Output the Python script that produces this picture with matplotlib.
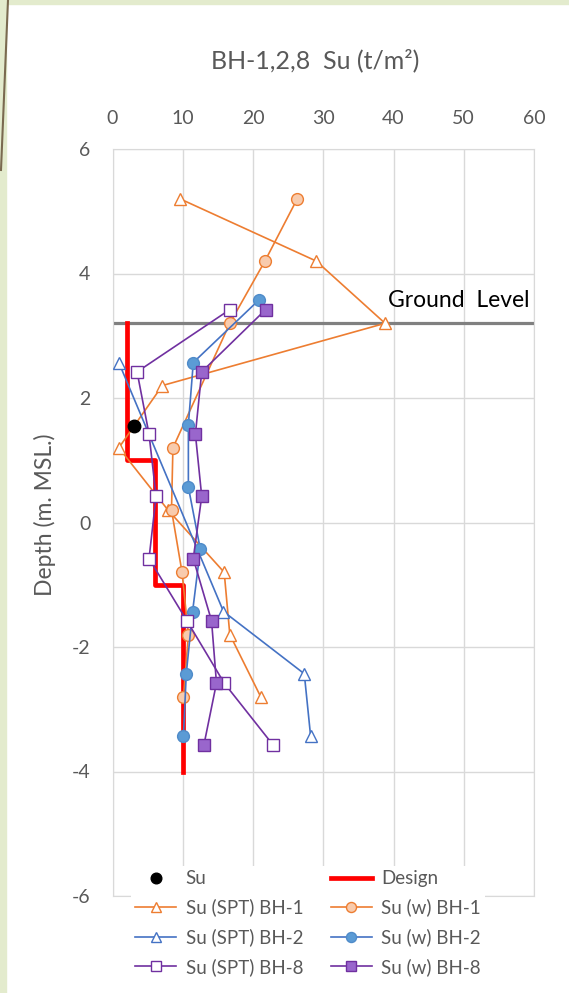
import matplotlib
matplotlib.use("Agg")
import matplotlib.pyplot as plt
from matplotlib.lines import Line2D
from matplotlib.patches import Rectangle

plt.rcParams['font.family'] = ['Lato', 'DejaVu Sans']
plt.rcParams['axes.unicode_minus'] = False

# depths (m. MSL) and Su values (t/m2)
depth_bh1 = [5.2, 4.2, 3.2, 2.2, 1.2, 0.2, -0.8, -1.8, -2.8]
su_spt_bh1 = [9.6, 29.0, 38.8, 7.1, 0.9, 7.9, 15.9, 16.7, 21.1]
su_w_bh1 = [26.3, 21.7, 16.7, None, 8.6, 8.4, 9.9, 10.8, 10.1]

depth_spt_bh2 = [2.57, -1.43, -2.43, -3.43]
su_spt_bh2 = [0.9, 15.8, 27.3, 28.2]
depth_w_bh2 = [3.57, 2.57, 1.57, 0.57, -0.43, -1.43, -2.43, -3.43]
su_w_bh2 = [20.8, 11.5, 10.8, 10.8, 12.5, 11.4, 10.5, 10.1]

depth_bh8 = [3.42, 2.42, 1.42, 0.42, -0.58, -1.58, -2.58, -3.58]
su_spt_bh8 = [16.7, 3.5, 5.2, 6.2, 5.2, 10.6, 15.9, 22.9]
su_w_bh8 = [21.8, 12.7, 11.8, 12.7, 11.5, 14.1, 14.8, 13.0]

su_point_x = [3.1]
su_point_y = [1.55]

design_x = [2, 2, 6, 6, 10, 10]
design_y = [3.2, 1.0, 1.0, -1.0, -1.0, -4.0]

ground_level = 3.2

x_ticks = [0, 10, 20, 30, 40, 50, 60]
y_ticks = [-6, -4, -2, 0, 2, 4, 6]

grey_txt = '#595959'
orange = '#ED7D31'
blue = '#4472C4'
purple = '#7030A0'

fig = plt.figure(figsize=(5.69, 9.93), dpi=100)
fig.patch.set_facecolor('white')

# slide background strip on the left / top
fig.patches.append(Rectangle((0, 0), 6 / 569, 1, transform=fig.transFigure,
                             color='#E3EBCD', zorder=0))
fig.patches.append(Rectangle((0, 1 - 4 / 993), 1, 4 / 993, transform=fig.transFigure,
                             color='#E3EBCD', zorder=0))
fig.lines.append(Line2D([8 / 569, 1 / 569], [1, 1 - 170 / 993], transform=fig.transFigure,
                        color='#7A6A50', lw=1.5, zorder=1))

ax = fig.add_axes([112.5 / 569, 97 / 993, 421.5 / 569, 747 / 993])

# ground level
ax.axhline(ground_level, color='#808080', lw=2.3, zorder=2)
ax.text(39.2, 3.57, 'Ground  Level', fontsize=16.5, color='black', va='center', ha='left')

# design line
ax.plot(design_x, design_y, color='#FF0000', lw=3.4, zorder=3, label='Design')

ax.plot(su_spt_bh1, depth_bh1, color=orange, lw=1.2, marker='^', ms=8,
        mfc='white', mec=orange, mew=1.0, zorder=4, label='Su (SPT) BH-1')
w1_x = [v for v in su_w_bh1 if v is not None]
w1_y = [d for v, d in zip(su_w_bh1, depth_bh1) if v is not None]
ax.plot(w1_x, w1_y, color=orange, lw=1.2, marker='o', ms=8.5,
        mfc='#F8CBAD', mec=orange, mew=1.0, zorder=4, label='Su (w) BH-1')

ax.plot(su_spt_bh2, depth_spt_bh2, color=blue, lw=1.2, marker='^', ms=8,
        mfc='white', mec=blue, mew=1.0, zorder=4, label='Su (SPT) BH-2')
ax.plot(su_w_bh2, depth_w_bh2, color=blue, lw=1.2, marker='o', ms=8.5,
        mfc='#5B9BD5', mec='#4F8BC9', mew=1.0, zorder=4, label='Su (w) BH-2')

ax.plot(su_spt_bh8, depth_bh8, color=purple, lw=1.2, marker='s', ms=8,
        mfc='white', mec=purple, mew=1.0, zorder=4, label='Su (SPT) BH-8')
ax.plot(su_w_bh8, depth_bh8, color=purple, lw=1.2, marker='s', ms=8,
        mfc='#9966CC', mec=purple, mew=1.0, zorder=4, label='Su (w) BH-8')

ax.plot(su_point_x, su_point_y, 'o', color='black', ms=9, zorder=5, label='Su')

ax.set_xlim(0, 60)
ax.set_ylim(-6, 6)
ax.set_xticks(x_ticks)
ax.set_yticks(y_ticks)
ax.xaxis.tick_top()
ax.tick_params(length=0, labelsize=14, colors=grey_txt)
ax.tick_params(axis='x', pad=16)
ax.tick_params(axis='y', pad=16)
ax.grid(color='#D9D9D9', lw=1.0)
ax.set_axisbelow(True)
for s in ax.spines.values():
    s.set_color('#D9D9D9')
ax.set_ylabel('Depth (m. MSL.)', fontsize=16.5, color=grey_txt)
ax.yaxis.set_label_coords(-0.134, 0.51)

fig.text(315 / 569, 1 - 60 / 993, 'BH-1,2,8  Su (t/m²)', fontsize=18,
         color=grey_txt, ha='center', va='center')

h, l = ax.get_legend_handles_labels()
order = ['Su', 'Su (SPT) BH-1', 'Su (SPT) BH-2', 'Su (SPT) BH-8',
         'Design', 'Su (w) BH-1', 'Su (w) BH-2', 'Su (w) BH-8']
hd = dict(zip(l, h))
leg = fig.legend([hd[k] for k in order], order, ncol=2, loc='upper left',
                 bbox_to_anchor=(122 / 569, 1 - 857 / 993), fontsize=13.5,
                 frameon=True, facecolor='white', edgecolor='none', framealpha=1,
                 handlelength=2.2, labelspacing=0.62, columnspacing=1.45,
                 handletextpad=0.5, borderpad=0.2, markerscale=0.85)
for t in leg.get_texts():
    t.set_color(grey_txt)

fig.savefig('out.png', dpi=100)
